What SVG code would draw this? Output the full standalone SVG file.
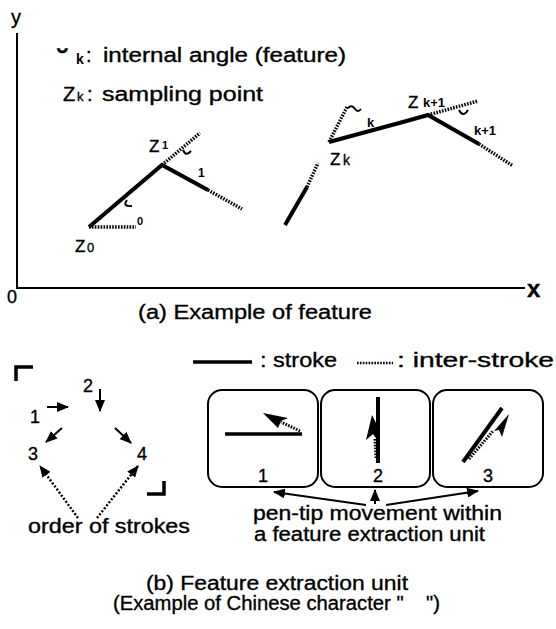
<svg xmlns="http://www.w3.org/2000/svg" width="556" height="629" viewBox="0 0 556 629">
<style>
 text { font-family: "Liberation Sans", Arial, Helvetica, sans-serif; fill:#000; stroke:#000; stroke-width:0.35; }
 .t { font-size:20px; }
 .n { font-size:18px; }
 .z { font-size:17px; }
 .s { font-size:13px; font-weight:bold; stroke-width:0; }
 .stroke { fill:none; stroke:#000; stroke-width:4; stroke-linejoin:miter; }
 .inter { fill:none; stroke:#000; stroke-width:3.5; stroke-dasharray:1.6 1.3; }
 .ax { fill:none; stroke:#000; stroke-width:2; }
 .arc { fill:none; stroke:#000; stroke-width:2; }
 .box { fill:#fff; stroke:#000; stroke-width:2; }
 .corner { fill:none; stroke:#000; stroke-width:3.5; }
 .ptr { fill:none; stroke:#000; stroke-width:2; marker-end:url(#ah); }
 .dptr { fill:none; stroke:#000; stroke-width:2.5; stroke-dasharray:2 1.8; marker-end:url(#ah); }
</style>
<defs>
 <marker id="ah" markerUnits="userSpaceOnUse" markerWidth="12" markerHeight="10" refX="11" refY="5" orient="auto"><path d="M0,0 L12,5 L0,10 Z" fill="#000"/></marker>
</defs>

<g id="axes">
 <path class="ax" d="M17 33 V288 H525"/>
 <text class="t" x="11" y="24">y</text>
 <text x="527" y="297" style="font-size:24px;font-weight:bold">x</text>
 <text class="n" x="7" y="303">0</text>
</g>

<g id="legend-a">
 <text x="58" y="70" style="font-size:30px;font-weight:bold;stroke-width:0.6">˘</text>
 <text class="s" x="76" y="64" style="font-size:14px">k</text>
 <text class="t" x="86" y="62">:</text>
 <text class="t" x="103" y="62" textLength="243" lengthAdjust="spacingAndGlyphs">internal  angle (feature)</text>
 <text class="t" x="63" y="101">Z</text>
 <text x="77" y="101" style="font-size:13px">k</text>
 <text class="t" x="87" y="101">:</text>
 <text class="t" x="102" y="101" textLength="161" lengthAdjust="spacingAndGlyphs">sampling point</text>
</g>

<g id="feature-left">
 <path class="stroke" d="M89 227 L162 165 L208 190"/>
 <path class="inter" d="M208 190 L242 209"/>
 <path class="inter" d="M89 227 L136 227"/>
 <path class="inter" d="M162 165 L200 133"/>
 <path class="arc" d="M127 200 Q122 207 132 206"/>
 <path class="arc" d="M183 150 Q186 157 191 151"/>
 <text class="z" x="149" y="152">Z</text>
 <text x="162" y="149" style="font-size:11px;font-weight:bold;stroke-width:0">1</text>
 <text class="s" x="198" y="177" style="font-size:12px">1</text>
 <text class="s" x="137" y="225" style="font-size:11px">0</text>
 <text class="z" x="75" y="252">Z</text>
 <text x="87" y="252" style="font-size:13px">0</text>
</g>

<g id="feature-right">
 <path class="stroke" d="M285 225 L307 187"/>
 <path class="inter" d="M307 187 L318 163"/>
 <path class="stroke" d="M329 142 L403 122 L428 115 L479 144"/>
 <path class="inter" d="M479 144 L513 166"/>
 <path class="inter" d="M428 115 L478 101"/>
 <path class="inter" d="M329 142 L347 107"/>
 <path class="arc" d="M348 108 Q352 104 355 109 Q358 113 361 109"/>
 <path class="arc" d="M459 110 Q463 118 468 110"/>
 <text class="s" x="367" y="127">k</text>
 <text class="z" x="330" y="165">Z</text>
 <text x="343" y="165" style="font-size:14px">k</text>
 <text class="z" x="408" y="108">Z</text>
 <text class="s" x="423" y="107">k+1</text>
 <text class="s" x="474" y="135">k+1</text>
</g>

<g id="caption-a">
 <text class="t" x="138" y="319" textLength="234" lengthAdjust="spacingAndGlyphs">(a)  Example  of  feature</text>
</g>

<g id="stroke-order">
 <path class="corner" d="M16 381 V367 H33"/>
 <path class="corner" d="M147 494 H164 V481"/>
 <text class="n" x="83" y="392">2</text>
 <text class="n" x="30" y="423">1</text>
 <text class="n" x="28" y="460">3</text>
 <text class="n" x="137" y="460">4</text>
</g>

<g id="connectors">
 <path class="ptr" d="M47 407 L68 407"/>
 <path class="ptr" d="M100 389 L100 411"/>
 <path class="ptr" d="M62 428 L46 442"/>
 <path class="ptr" d="M115 428 L131 443"/>
 <path class="dptr" d="M78 518 L40 466"/>
 <path class="dptr" d="M97 518 L138 466"/>
 <path class="ptr" d="M366 505 L274 492"/>
 <path class="ptr" d="M375 504 L375 490"/>
 <path class="ptr" d="M386 505 L478 491"/>
</g>

<g id="order-label">
 <text class="t" x="28" y="533" textLength="162" lengthAdjust="spacingAndGlyphs">order of strokes</text>
</g>

<g id="legend-b">
 <path class="stroke" d="M193 362 L252 362" style="stroke-width:3.5"/>
 <text class="t" x="260" y="367" textLength="77" lengthAdjust="spacingAndGlyphs">: stroke</text>
 <path class="inter" d="M357 363 L393 363" style="stroke-width:2.5"/>
 <text class="t" x="397" y="367" textLength="157" lengthAdjust="spacingAndGlyphs">: inter-stroke</text>
</g>

<g id="unit1">
 <rect class="box" x="208" y="390" width="110" height="97" rx="14"/>
 <path class="stroke" d="M225 434 L302 434" style="stroke-width:3.5"/>
 <path class="inter" d="M300 431 L281 422" style="stroke-width:3"/>
 <polygon points="263,413 288,418 281,421 278,428"/>
 <text class="n" x="263" y="482" text-anchor="middle">1</text>
</g>

<g id="unit2">
 <rect class="box" x="321" y="390" width="109" height="97" rx="14"/>
 <path class="stroke" d="M378 397 L378 463"/>
 <polygon points="372,415 378,427 378,441 373,434 366,440"/>
 <path class="inter" d="M375 439 L376 458" style="stroke-width:3"/>
 <text class="n" x="378" y="482" text-anchor="middle">2</text>
</g>

<g id="unit3">
 <rect class="box" x="433" y="390" width="110" height="97" rx="14"/>
 <path class="stroke" d="M463 462 L502 408"/>
 <path class="inter" d="M469 459 L493 431" style="stroke-width:3"/>
 <polygon points="509,414 502,437 499,430 494,431"/>
 <text class="n" x="488" y="482" text-anchor="middle">3</text>
</g>

<g id="unit-label">
 <text class="t" x="253" y="520" textLength="249" lengthAdjust="spacingAndGlyphs">pen-tip movement within</text>
 <text class="t" x="254" y="541" textLength="231" lengthAdjust="spacingAndGlyphs">a feature extraction unit</text>
</g>

<g id="caption-b">
 <text class="t" x="146" y="590" textLength="262" lengthAdjust="spacingAndGlyphs">(b)  Feature  extraction  unit</text>
 <text class="t" x="113" y="610" textLength="327" lengthAdjust="spacingAndGlyphs" style="white-space:pre">(Example of Chinese character "    ")</text>
</g>
</svg>
